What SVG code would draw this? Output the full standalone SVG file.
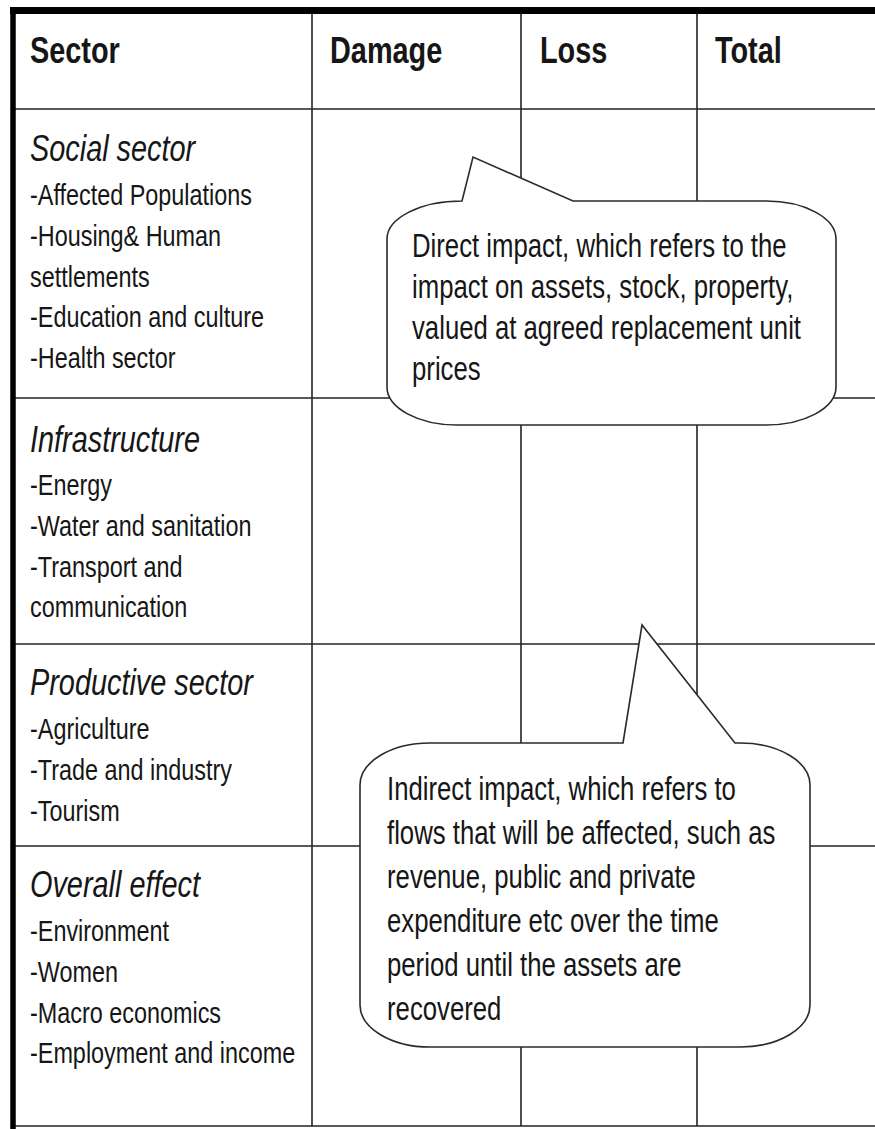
<svg xmlns="http://www.w3.org/2000/svg" width="875" height="1129" viewBox="0 0 875 1129">
<style>
text{font-family:"Liberation Sans",Arial,sans-serif;fill:#161616}
.hd{font-size:37px;font-weight:bold}
.it{font-size:37px;font-style:italic}
.b{font-size:30px}
.c{font-size:33px}
.grid{stroke:#222;stroke-width:1.6;fill:none}
.thick{stroke:#000;fill:none}
.call{fill:#fff;stroke:#2a2a2a;stroke-width:1.6;stroke-linejoin:miter}
</style>
<rect width="875" height="1129" fill="#fff"/>
<g id="table">
<g class="grid">
<line x1="13" y1="109" x2="875" y2="109"/>
<line x1="13" y1="398" x2="875" y2="398"/>
<line x1="13" y1="644" x2="875" y2="644"/>
<line x1="13" y1="846" x2="875" y2="846"/>
<line x1="13" y1="1126" x2="875" y2="1126"/>
<line x1="312" y1="11" x2="312" y2="1126"/>
<line x1="521" y1="11" x2="521" y2="1126"/>
<line x1="697" y1="11" x2="697" y2="1126"/>
</g>
<line class="thick" x1="10" y1="10.5" x2="875" y2="10.5" stroke-width="7"/>
<line class="thick" x1="13" y1="7" x2="13" y2="1129" stroke-width="5.5"/>
</g>
<g id="header">
<g transform="translate(30,0) scale(0.78,1)"><text class="hd" y="63">Sector</text></g>
<g transform="translate(330,0) scale(0.78,1)"><text class="hd" y="63">Damage</text></g>
<g transform="translate(540,0) scale(0.78,1)"><text class="hd" y="63">Loss</text></g>
<g transform="translate(715,0) scale(0.78,1)"><text class="hd" y="63">Total</text></g>
</g>
<g id="social" transform="translate(30,0) scale(0.78,1)">
<text class="it" y="161">Social sector</text>
<text class="b" y="205">-Affected Populations</text>
<text class="b" y="246">-Housing&amp; Human</text>
<text class="b" y="287">settlements</text>
<text class="b" y="327">-Education and culture</text>
<text class="b" y="368">-Health sector</text>
</g>
<g id="infrastructure" transform="translate(30,0) scale(0.78,1)">
<text class="it" y="452">Infrastructure</text>
<text class="b" y="495">-Energy</text>
<text class="b" y="536">-Water and sanitation</text>
<text class="b" y="577">-Transport and</text>
<text class="b" y="617">communication</text>
</g>
<g id="productive" transform="translate(30,0) scale(0.78,1)">
<text class="it" y="695">Productive sector</text>
<text class="b" y="739">-Agriculture</text>
<text class="b" y="780">-Trade and industry</text>
<text class="b" y="821">-Tourism</text>
</g>
<g id="overall" transform="translate(30,0) scale(0.78,1)">
<text class="it" y="897">Overall effect</text>
<text class="b" y="941">-Environment</text>
<text class="b" y="982">-Women</text>
<text class="b" y="1023">-Macro economics</text>
<text class="b" y="1063">-Employment and income</text>
</g>
<g id="callout-direct">
<path class="call" d="M462,201 L473,157 L573,201 L766,201 A70,38 0 0 1 836,239 L836,387 A70,38 0 0 1 766,425 L457,425 A70,38 0 0 1 387,387 L387,239 A75,38 0 0 1 462,201 Z"/>
<g transform="translate(412,0) scale(0.78,1)">
<text class="c" y="257">Direct impact, which refers to the</text>
<text class="c" y="298">impact on assets, stock, property,</text>
<text class="c" y="339">valued at agreed replacement unit</text>
<text class="c" y="380">prices</text>
</g>
</g>
<g id="callout-indirect">
<path class="call" d="M623,743 L642,625 L735,743 L740,743 A70,42 0 0 1 810,785 L810,1005 A70,42 0 0 1 740,1047 L430,1047 A70,42 0 0 1 360,1005 L360,785 A70,42 0 0 1 430,743 Z"/>
<g transform="translate(387,0) scale(0.78,1)">
<text class="c" y="800">Indirect impact, which refers to</text>
<text class="c" y="844">flows that will be affected, such as</text>
<text class="c" y="888">revenue, public and private</text>
<text class="c" y="932">expenditure etc over the time</text>
<text class="c" y="976">period until the assets are</text>
<text class="c" y="1020">recovered</text>
</g>
</g>
</svg>
